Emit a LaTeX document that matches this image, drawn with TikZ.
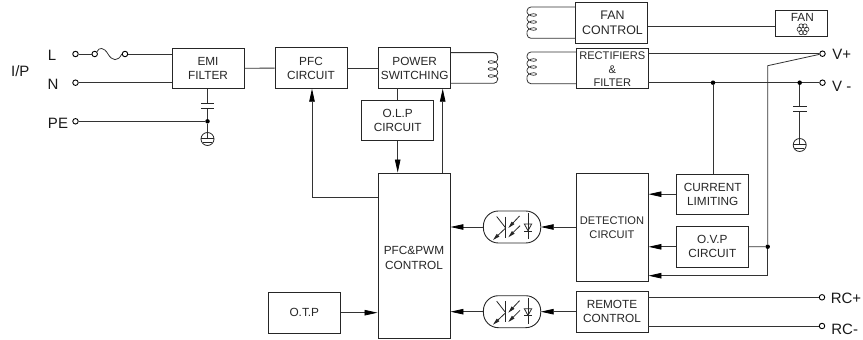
\documentclass[tikz,border=0pt]{standalone}
\usepackage{fontspec}
\setmainfont{Liberation Sans}
\usetikzlibrary{arrows.meta,calc}
\tikzset{
  x=1pt,y=-1pt,
  blk/.style={draw=black!85,line width=0.9pt,minimum width=72pt,minimum height=40.5pt,inner sep=0pt,align=center,font=\fontsize{11.8}{14}\selectfont,text=black!85},
  txt/.style={inner sep=0pt,align=center,font=\fontsize{11.8}{14.5}\selectfont,text=black!85},
  wire/.style={draw=black!80,line width=0.8pt},
  arr/.style={wire,-{Triangle[length=13pt,width=5.5pt,fill=black,color=black]}},
  lab/.style={font=\fontsize{15}{17}\selectfont,text=black!90,inner sep=0pt},
  term/.style={circle,draw=black,line width=0.9pt,fill=white,minimum size=5.5pt,inner sep=0pt},
  dot/.style={circle,fill=black,minimum size=4.5pt,inner sep=0pt},
  sym/.style={line width=0.8pt,draw=black!85},
}
% coil: #1 centre x, #2 top y, #3 direction of the outer side
\newcommand{\mycoil}[3]{%
  \draw[sym,line width=0.7pt] plot[domain=0:1080,samples=90] ({#1+#3*4.7*cos(\x)},{#2+7*\x/360+2.7*sin(\x)});}
% earth symbol: #1 x, #2 centre y
\newcommand{\myground}[2]{%
  \draw[sym] (#1,#2) circle[radius=6.5];
  \draw[sym,line width=1pt] (#1-6.5,#2-0.7) -- (#1+6.5,#2-0.7);
  \draw[sym] (#1-4.5,#2+3) -- (#1+4.5,#2+3);}
% optocoupler
\newcommand{\myopto}[1]{%
  \draw[sym,line width=0.9pt,rounded corners=15pt] (483.4,#1-16) rectangle (540.7,#1+16);
  \draw[sym] (505.7,#1-10.5) -- (505.7,#1+10.5);
  \draw[sym] (496.7,#1-10.5) -- (505.7,#1+1);
  \draw[sym,-{Triangle[length=7pt,width=3.5pt]}] (505.7,#1+1) -- (493,#1+13);
  \draw[sym,-{Triangle[length=7pt,width=3.5pt]}] (519.5,#1-11) -- (508.3,#1+1);
  \draw[sym,-{Triangle[length=7pt,width=3.5pt]}] (520,#1-1.3) -- (508.3,#1+10.3);
  \draw[sym] (528,#1-13.7) -- (528,#1+12.3);
  \draw[sym] (524.3,#1-3) -- (531.7,#1-3) -- (528,#1+3.7) -- cycle;
  \draw[sym] (524.3,#1+4) -- (531.7,#1+4);}
\begin{document}
\begin{tikzpicture}
\useasboundingbox (0,0) rectangle (863,340);
% boxes
\node[blk] (emi) at (208,68.3) {EMI\\FILTER};
\node[blk] (pfc) at (311,68) {PFC\\CIRCUIT};
\node[blk] (pow) at (414.7,68) {POWER\\SWITCHING};
\node[blk] (olp) at (397.7,120.5) {O.L.P\\CIRCUIT};
\node[blk,minimum height=165.5pt] (ctl) at (414,255.75) {};
\node[txt] (ctlt) at (414,258) {PFC\&PWM\\CONTROL};
\node[blk] (otp) at (304.3,312.7) {O.T.P};
\node[blk] (fc) at (611.5,22.7) {};
\node[txt,font=\fontsize{12.4}{14.5}\selectfont] (fct) at (612.5,22.7) {FAN\\CONTROL};
\node[blk,font=\fontsize{11.1}{13.4}\selectfont] (rec) at (612.3,68.3) {};
\node[txt,font=\fontsize{11.1}{13.4}\selectfont] (rect) at (612.3,69.5) {RECTIFIERS\\\&\\FILTER};
\node[blk,minimum width=52pt,minimum height=26pt] (fan) at (801.7,23.3) {};
\node[txt] (fant) at (802.3,17.5) {FAN};
\node[blk,font=\fontsize{11.1}{13.4}\selectfont,minimum height=107.5pt] (det) at (612,227.5) {DETECTION\\CIRCUIT};
\node[blk] (rem) at (612,311.7) {REMOTE\\CONTROL};
\node[blk] (cur) at (712.7,194.2) {CURRENT\\LIMITING};
\node[blk] (ovp) at (712.3,246.8) {O.V.P\\CIRCUIT};
% labels
\node[lab] (ip) at (20.3,71) {I/P};
\node[lab] (ll) at (52,55.5) {L};
\node[lab] (ln) at (53,84.3) {N};
\node[lab] (lpe) at (58,123.3) {PE};
\node[lab] (lvp) at (841.7,54.3) {V+};
\node[lab] (lvm) at (841.7,86) {V -};
\node[lab] (lrcp) at (846,298.3) {RC+};
\node[lab] (lrcm) at (844.7,329.3) {RC-};
% terminals
\node[term] (tl) at (75.5,54) {};
\node[term] (tn) at (75.5,82.7) {};
\node[term] (tpe) at (75.5,121.3) {};
\node[term] (f1) at (94.7,54) {};
\node[term] (f2) at (125,54) {};
\node[term] (tvp) at (822.5,53.7) {};
\node[term] (tvm) at (822.5,82.7) {};
\node[term] (trp) at (822,297.3) {};
\node[term] (trm) at (822,326) {};
% input wires
\draw[wire] (tl) -- (f1);
\draw[wire] (f1.north east) .. controls (99,47) and (104,47) .. (108,54) .. controls (112,61) and (118,62) .. (f2.west);
\draw[wire] (f2) -- (f2 -| emi.west);
\draw[wire] (tn) -- (tn -| emi.west);
\node[dot] (d1) at (207.5,121.3) {};
\draw[wire] (tpe) -- (d1);
\coordinate (e1) at (207.5,88.7);
\coordinate (c1t) at (207.5,103);
\coordinate (c1b) at (207.5,108.3);
\draw[wire] (e1) -- (c1t);
\draw[wire] (c1b) -- (d1);
\draw[sym,line width=0.9pt] (201,103) -- (214,103) (201,108.3) -- (214,108.3);
\coordinate (g1) at (207.5,138.5);
\draw[wire] (d1) -- (g1);
\myground{207.5}{139}
% chain
\draw[wire] (emi) -- (pfc);
\draw[wire] (pfc) -- (pow);
\coordinate (pb) at (397.5,88.2);
\draw[wire] (pb) -- (pb |- olp.north);
% transformers
\draw[wire,line width=1pt,rounded corners=4pt] (450.7,52.7) -- (497.7,52.7) -- (497.7,58.5);
\draw[wire,rounded corners=4pt] (497.7,79.5) -- (497.7,83.3) -- (450.7,83.3);
\mycoil{493}{58.5}{1}
\draw[wire,rounded corners=4pt] (527,56.5) -- (527,52) -- (576.3,52);
\draw[wire,rounded corners=4pt] (527,77.5) -- (527,83.7) -- (576.3,83.7);
\mycoil{531.7}{56.5}{-1}
\draw[wire,rounded corners=4pt] (527,11.5) -- (527,7) -- (575.5,7);
\draw[wire,rounded corners=4pt] (527,32.5) -- (527,38.3) -- (575.5,38.3);
\mycoil{531.7}{11.5}{-1}
% fan
\coordinate (fw) at (fc.east |- 0,26);
\draw[wire] (fw) -- (fw -| fan.west);
\foreach \a in {0,60,...,300}{\draw[sym,line width=0.6pt] ($(803,29.3)+(\a:3.8)$) circle[radius=2.2];}
% outputs
\draw[wire,line width=1pt] (648.3,53.7) -- (tvp);
\draw[wire] (648.3,82.7) -- (tvm);
\node[dot] (d2) at (713,82.7) {};
\node[dot] (d3) at (799.7,82.7) {};
\draw[wire] (d2) -- (d2 |- cur.north);
\coordinate (sn) at (767.7,65.7);
\node[dot] (d4) at (767.7,246.7) {};
\draw[wire] (tvp) -- (sn) -- (d4);
\draw[wire] (d3) -- (799.7,106.7);
\draw[wire] (799.7,111) -- (799.7,144);
\draw[sym,line width=0.9pt] (793,106.7) -- (806.5,106.7) (793,111) -- (806.5,111);
\myground{799.7}{145}
% feedback
\draw[arr] (cur.west) -- (cur.west -| det.east);
\draw[arr] (ovp.west) -- (ovp.west -| det.east);
\draw[wire] (ovp.east) -- (d4);
\coordinate (sb) at (767.7,275.7);
\draw[wire] (d4) -- (sb);
\draw[arr] (sb) -- (sb -| det.east);
\draw[wire] (648,297.3) -- (trp);
\draw[wire] (648,326) -- (trm);
% optos
\myopto{227}
\myopto{311.7}
\coordinate (o1r) at (540.7,227);
\coordinate (o1l) at (483.4,227);
\coordinate (o2r) at (540.7,311.7);
\coordinate (o2l) at (483.4,311.7);
\draw[arr] (det.west |- o1r) -- (o1r);
\draw[arr] (rem.west) -- (o2r);
\draw[arr] (o1l) -- (o1l -| ctl.east);
\draw[arr] (o2l) -- (o2l -| ctl.east);
\draw[arr] (otp) -- (otp -| ctl.west);
\draw[arr] (olp.south) -- (olp.south |- ctl.north);
\coordinate (p1) at (442.7,173);
\draw[arr] (p1) -- (p1 |- pow.south);
\coordinate (q1) at (312,197);
\draw[arr] (ctl.west |- q1) -- (q1) -- (q1 |- pfc.south);
\end{tikzpicture}
\end{document}
